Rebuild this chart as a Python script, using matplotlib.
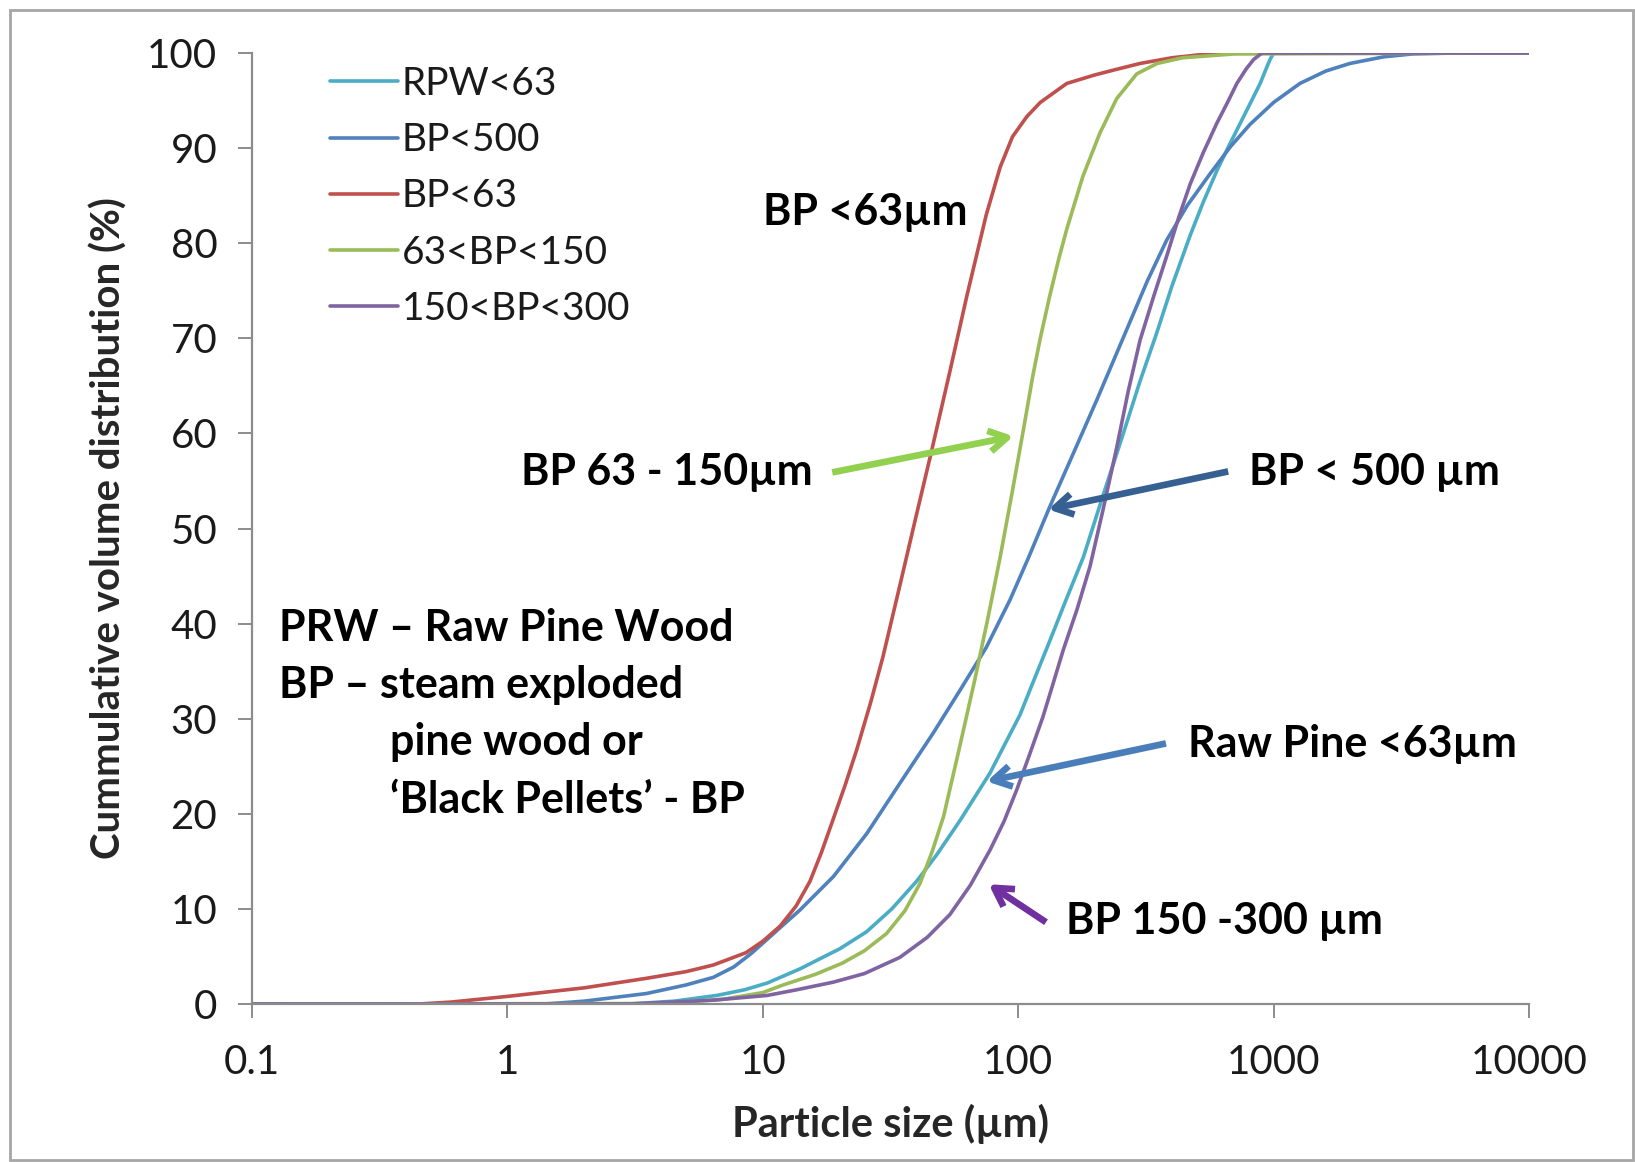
import matplotlib
matplotlib.use("Agg")
import matplotlib.pyplot as plt
from matplotlib.patches import Rectangle

plt.rcParams['font.family'] = ['Lato', 'DejaVu Sans']

# ---------------- data ----------------
series_names = ["RPW<63", "BP<500", "BP<63", "63<BP<150", "150<BP<300"]
series_colors = ["#4BACC6", "#4F81BD", "#C0504D", "#9BBB59", "#8064A2"]

rpw63_x = [0.1, 3, 4.5, 6.6, 8.5, 10.4, 14, 16.3, 20, 25.5, 32, 40, 48, 59.2, 77.6, 101.6, 115, 133, 155, 180,
           215, 258, 300, 348, 400, 471, 530, 599, 670, 740, 810, 886, 940, 968, 1000, 10000]
rpw63_y = [0, 0, 0.3, 0.9, 1.5, 2.2, 3.7, 4.6, 5.8, 7.6, 10, 12.9, 15.7, 19.3, 24.3, 30.4, 34, 38.2, 42.7, 47,
           53.5, 60, 65.5, 70.5, 75.5, 80.8, 84.3, 87.6, 90.3, 92.6, 94.7, 96.8, 98.5, 99.3, 100, 100]

bp500_x = [0.1, 1.4, 2, 3.5, 5, 6.4, 7.7, 9, 10.4, 12, 14, 18.9, 25.5, 34.4, 46.5, 59.2, 75, 92.9, 110, 133,
           165, 203, 262, 320, 381, 460, 564, 680, 809, 1000, 1268, 1600, 1990, 2700, 3500, 5000, 10000]
bp500_y = [0, 0, 0.3, 1.1, 2.0, 2.8, 3.9, 5.3, 6.8, 8.3, 9.9, 13.4, 17.9, 23.2, 28.5, 33, 37.5, 42.5, 47, 52.3,
           58, 63.5, 70.5, 76, 80.3, 84, 87.3, 90.2, 92.5, 94.8, 96.8, 98.1, 98.9, 99.6, 99.9, 100, 100]

bp63_x = [0.1, 0.45, 0.6, 1, 2, 3.5, 5, 6.4, 8.6, 10, 11.7, 13.5, 15.3, 17, 18.9, 21, 23.3, 26.5, 29.6, 34.4,
          40, 45.2, 54, 63, 75, 85, 95, 108, 122, 155, 200, 236, 300, 400, 550, 700, 10000]
bp63_y = [0, 0, 0.2, 0.8, 1.7, 2.7, 3.4, 4.1, 5.4, 6.6, 8.2, 10.3, 12.9, 16, 19.5, 23, 26.7, 31.8, 36.6, 44,
          51.5, 57.5, 66.5, 74.5, 83, 88, 91.2, 93.3, 94.8, 96.8, 97.7, 98.2, 98.9, 99.5, 99.9, 100, 100]

bp63_150_x = [0.1, 4, 7, 10, 12, 16, 20.5, 25, 30.5, 36, 41.3, 46, 51, 58.6, 67.5, 76, 85, 95, 105, 114, 122,
              133, 144, 155, 179, 209, 243, 291, 350, 441, 700, 10000]
bp63_150_y = [0, 0.05, 0.5, 1.2, 2.0, 3.1, 4.3, 5.6, 7.4, 9.8, 12.7, 16, 19.7, 26.7, 34, 40.5, 47, 54, 60.5, 66, 70,
              74.5, 78.3, 81.5, 87, 91.6, 95.2, 97.8, 98.9, 99.5, 99.9, 100]

bp150_300_x = [0.1, 3, 6.4, 10.4, 13.6, 18.9, 25, 34.4, 44, 54, 65, 77.6, 88, 98.6, 110, 125, 137, 150, 170, 191,
               215, 243, 270, 300, 340, 381, 425, 471, 530, 599, 660, 718, 780, 834, 900, 10000]
bp150_300_y = [0, 0, 0.4, 0.9, 1.5, 2.3, 3.2, 4.9, 7, 9.4, 12.5, 16.2, 19.2, 22.5, 26, 30.2, 33.7, 37.2, 41.5, 46,
               52, 58.5, 64.5, 69.8, 74.5, 78.6, 82.7, 86.2, 89.5, 92.6, 94.8, 96.8, 98.3, 99.3, 100, 100]

x_ticks = [0.1, 1, 10, 100, 1000, 10000]
x_tick_labels = ["0.1", "1", "10", "100", "1000", "10000"]
y_ticks = [0, 10, 20, 30, 40, 50, 60, 70, 80, 90, 100]

# ---------------- figure ----------------
W, H = 1635, 1162
fig = plt.figure(figsize=(W / 100, H / 100), dpi=100)
fig.patch.set_facecolor("white")

left, right, top, bottom = 252, 1529, 53, 1004
ax = fig.add_axes([left / W, 1 - bottom / H, (right - left) / W, (bottom - top) / H])

xs = [rpw63_x, bp500_x, bp63_x, bp63_150_x, bp150_300_x]
ys = [rpw63_y, bp500_y, bp63_y, bp63_150_y, bp150_300_y]
for x, y, name, c in zip(xs, ys, series_names, series_colors):
    ax.plot(x, y, color=c, lw=2.6, label=name, solid_capstyle="round", solid_joinstyle="round")

ax.set_xscale("log")
ax.set_xlim(0.1, 10000)
ax.set_ylim(0, 100)
ax.set_xticks(x_ticks)
ax.set_xticklabels(x_tick_labels)
ax.set_yticks(y_ticks)
ax.minorticks_off()

for s in ["top", "right"]:
    ax.spines[s].set_visible(False)
for s in ["left", "bottom"]:
    ax.spines[s].set_color("#8C8C8C")
    ax.spines[s].set_linewidth(1.6)

ax.tick_params(axis="both", direction="out", length=10, width=1.4, color="#8C8C8C",
               labelsize=29, labelcolor="#1a1a1a")
ax.tick_params(axis="x", pad=19)
ax.tick_params(axis="y", pad=15)

ax.set_xlabel("Particle size (µm)", fontsize=30, fontweight="bold", color="#262626", labelpad=16)
ax.set_ylabel("Cummulative volume distribution (%)", fontsize=29, fontweight="bold", color="#262626", labelpad=14)

leg = ax.legend(loc="upper left", bbox_to_anchor=(330 / W, 1 - 66 / H), bbox_transform=fig.transFigure,
                frameon=False, fontsize=28, handlelength=1.75, handletextpad=0.1,
                labelspacing=0.52, borderpad=0, borderaxespad=0)
for t in leg.get_texts():
    t.set_color("#1a1a1a")

# ---------------- annotations ----------------
tkw = dict(fontsize=31, fontweight="bold", color="black", va="center", ha="left", clip_on=False)
ax.text(10.0, 83.3, "BP <63µm", **tkw)
ax.text(1.13, 55.9, "BP 63 - 150µm", **tkw)
ax.text(802, 55.9, "BP < 500 µm", **tkw)
ax.text(0.128, 39.5, "PRW – Raw Pine Wood", **tkw)
ax.text(0.128, 33.5, "BP – steam exploded", **tkw)
ax.text(0.347, 27.5, "pine wood or", **tkw)
ax.text(0.347, 21.5, "‘Black Pellets’ - BP", **tkw)
ax.text(462, 27.3, "Raw Pine <63µm", **tkw)
ax.text(154, 8.7, "BP 150 -300 µm", **tkw)

def arrow(x0, y0, x1, y1, color):
    ax.annotate("", xy=(x1, y1), xytext=(x0, y0),
                arrowprops=dict(arrowstyle="->,head_length=1.3,head_width=0.75",
                                color=color, lw=4.8, shrinkA=0, shrinkB=0,
                                capstyle="butt", joinstyle="round"))

arrow(18.7, 55.9, 95.9, 59.7, "#92D050")
arrow(664, 56.0, 131, 52.0, "#376092")
arrow(379, 27.4, 75.2, 23.4, "#4A7EBB")
arrow(128.5, 8.6, 76.6, 12.6, "#7030A0")

# outer frame
fig.patches.append(Rectangle((10 / W, 2 / H), (W - 12) / W, (H - 12) / H,
                             transform=fig.transFigure, fill=False,
                             edgecolor="#A6A6A6", lw=2))

fig.savefig("out.png", dpi=100)
